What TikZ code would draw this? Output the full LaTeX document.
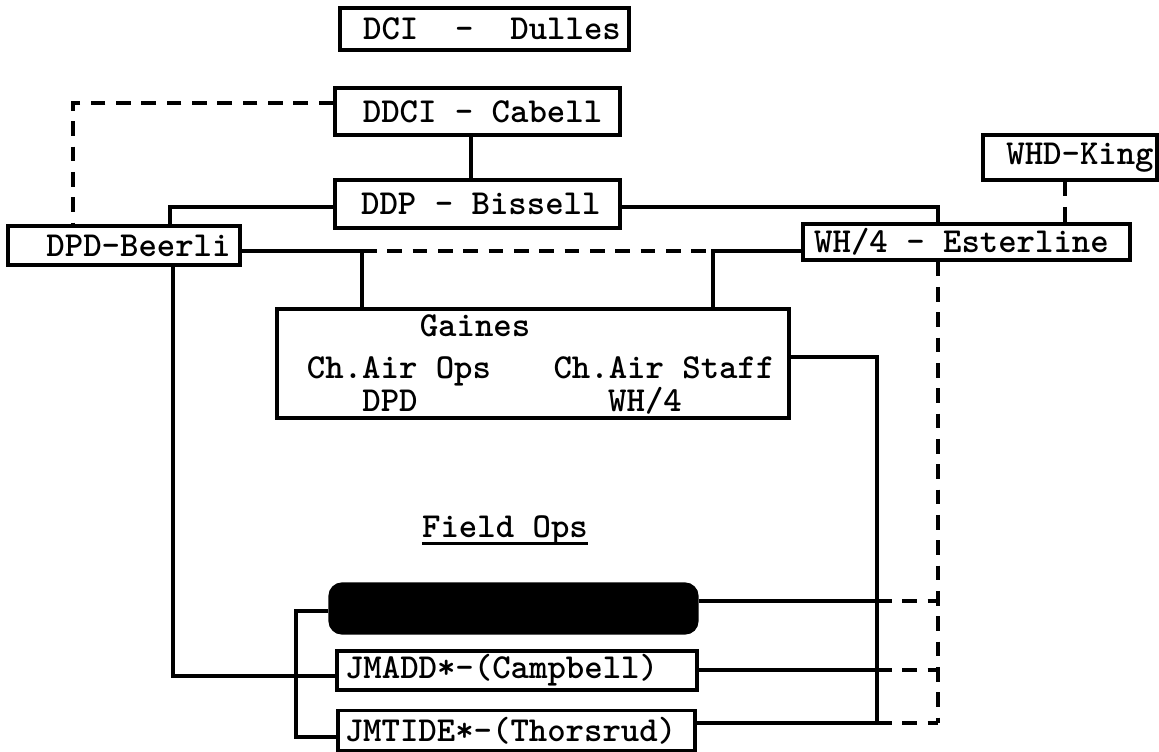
\documentclass[tikz,border=0pt]{standalone}
\usepackage{fontspec}
\begin{document}
\begin{tikzpicture}[x=0.75pt,y=-0.75pt,
  ln/.style={line width=2.4pt},
  dsh/.style={line width=2.4pt,dash pattern=on 11pt off 8pt},
  fnt/.style={font=\fontsize{26.3}{30}\ttfamily\bfseries\selectfont},
  box/.style={draw,line width=2.4pt,inner sep=0pt,fnt},
  txt/.style={inner sep=0pt,fnt,anchor=base}]
\useasboundingbox (0,0) rectangle (1159,751);
% boxes
\node[box,minimum width=216.75pt,minimum height=31.5pt] (dci) at (484.5,29) {\hspace*{11.25pt}DCI~~-~~Dulles};
\node[box,minimum width=213.75pt,minimum height=35.25pt] (ddci) at (477.5,111.5) {\hspace*{7.5pt}DDCI - Cabell};
\node[box,minimum width=213.75pt,minimum height=36pt] (ddp) at (477.5,204) {\hspace*{5pt}DDP - Bissell};
\node[box,minimum width=174pt,minimum height=29.25pt] (dpd) at (124,245.5) {\hspace*{21.75pt}DPD-Beerli};
\node[box,minimum width=245.25pt,minimum height=27pt] (wh4) at (966.5,242) {WH/4 - Esterline\hspace*{7.5pt}};
\node[box,minimum width=130.5pt,minimum height=33.75pt] (whd) at (1070,157.5) {\hspace*{15pt}WHD-King};
\node[box,minimum width=384pt,minimum height=81.75pt] (gaines) at (533,363.5) {};
\node[txt] (gname) at (475,336) {Gaines};
\node[txt] (gops) at (399,378) {Ch.Air Ops};
\node[txt] (gstaff) at (664,378) {Ch.Air Staff};
\node[txt] (gdpd) at (390,411) {DPD};
\node[txt] (gwh) at (645,411) {WH/4};
\node[txt] (fops) at (505,537) {Field Ops};
\draw[ln] ([yshift=-5pt]fops.base west) -- ([yshift=-5pt]fops.base east);
\node[draw,fill=black,line width=2.4pt,rounded corners=9pt,minimum width=275.25pt,minimum height=36.75pt] (blob) at (513.5,608.5) {};
\node[box,minimum width=270pt,minimum height=29.25pt] (jmadd) at (517,670.5) {JMADD*-(Campbell)\hspace*{23.25pt}};
\node[box,minimum width=267.75pt,minimum height=30pt] (jmtide) at (516.5,730.5) {JMTIDE*-(Thorsrud)\hspace*{9pt}};
% coordinates
\coordinate (c0) at (471,0);
\coordinate (c1) at (73,103);
\coordinate (c2) at (170,207);
\coordinate (c3) at (938,207);
\coordinate (c4) at (1065,0);
\coordinate (c5) at (362,251);
\coordinate (c6) at (713,251);
\coordinate (c7) at (877,357);
\coordinate (r1) at (877,601);
\coordinate (r2) at (877,670);
\coordinate (r3) at (877,723);
\coordinate (d1) at (938,601);
\coordinate (d2) at (938,670);
\coordinate (d3) at (938,723);
\coordinate (l1) at (173,676);
\coordinate (b1) at (296,611);
\coordinate (b2) at (296,737);
% connectors
\draw[ln] (ddci.south -| c0) -- (ddp.north -| c0);
\draw[dsh] (ddci.west |- c1) -- (c1) -- (c1 |- dpd.north);
\draw[ln] (ddp.west |- c2) -- (c2) -- (c2 |- dpd.north);
\draw[ln] (ddp.east |- c3) -- (c3) -- (c3 |- wh4.north);
\draw[dsh] (whd.south -| c4) -- (wh4.north -| c4);
\draw[ln] (dpd.east |- c5) -- (c5) -- (c5 |- gaines.north);
\draw[dsh] (c5) -- (c6);
\draw[ln] (wh4.west |- c6) -- (c6) -- (c6 |- gaines.north);
\draw[ln] (gaines.east |- c7) -- (c7) -- (r3);
\draw[ln] (blob.east |- r1) -- (r1);
\draw[ln] (jmadd.east |- r2) -- (r2);
\draw[ln] (jmtide.east |- r3) -- (r3);
\draw[dsh] (r1) -- (d1);
\draw[dsh] (r2) -- (d2);
\draw[dsh] (r3) -- (d3);
\draw[dsh] (wh4.south -| d1) -- (d3);
\draw[ln] (dpd.south -| l1) -- (l1) -- (l1 -| jmadd.west);
\draw[ln] (blob.west |- b1) -- (b1) -- (b2) -- (b2 -| jmtide.west);
\end{tikzpicture}
\end{document}
